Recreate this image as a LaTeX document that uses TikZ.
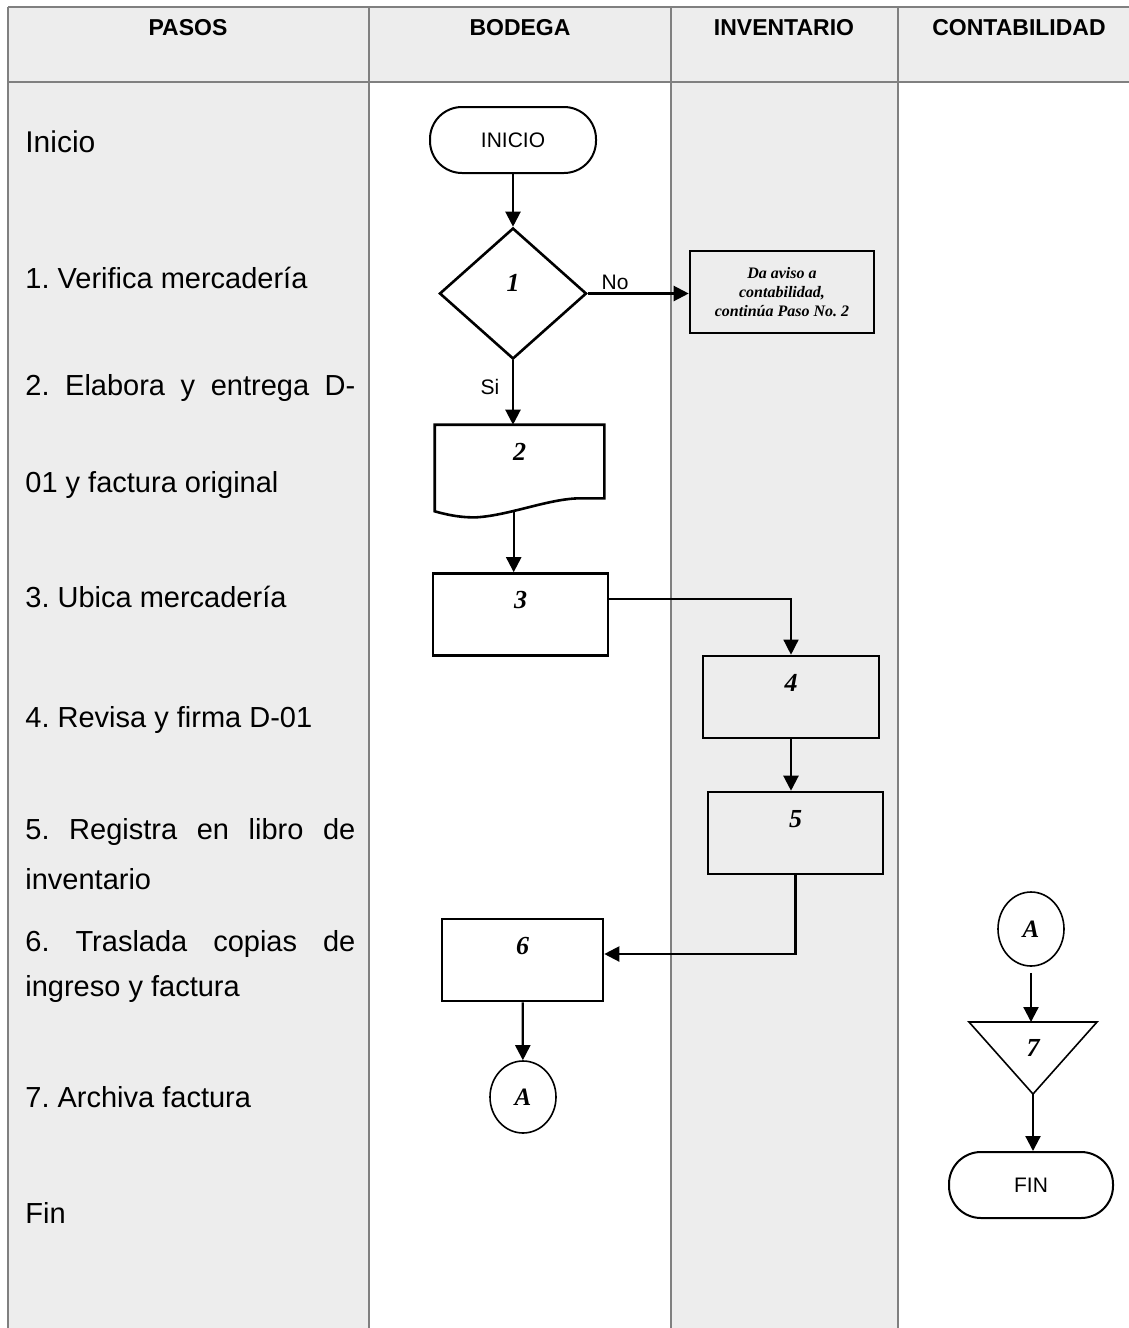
\documentclass[tikz,border=0pt]{standalone}
\usepackage{fontspec}
\setmainfont{Liberation Sans}
\newfontfamily\numfont{Liberation Serif}
\usepackage{tikz}
\usetikzlibrary{positioning, arrows.meta, calc, shapes.geometric}
\definecolor{lanegray}{RGB}{237,237,237}
\definecolor{linegray}{RGB}{128,128,128}
\frenchspacing

\begin{document}
\begin{tikzpicture}[x=0.5pt, y=-0.5pt,
	head/.style={font=\bfseries\fontsize{11.5}{13}\selectfont},
	pasotxt/.style={anchor=base west, inner sep=0pt, font=\fontsize{14.5}{17}\selectfont},
	lane/.style={draw=linegray, line width=0.8pt},
	term/.style={draw, line width=1pt, rounded corners=16pt, minimum width=83pt, minimum height=33pt, font=\fontsize{10.5}{12}\selectfont},
	caja/.style={draw, line width=1.3pt, minimum width=87.5pt, minimum height=41pt, inner sep=0pt, font=\numfont\bfseries\itshape\fontsize{13}{15}\selectfont, text height=3pt, text depth=8.6pt},
	decision/.style={diamond, draw, line width=1.3pt, minimum width=73.5pt, minimum height=65.5pt, inner sep=0pt, font=\numfont\bfseries\itshape\fontsize{13}{15}\selectfont, text height=2pt, text depth=4.1pt},
	conector/.style={ellipse, draw, line width=0.8pt, minimum width=33pt, minimum height=36pt, inner sep=0pt, font=\numfont\bfseries\itshape\fontsize{12.5}{14}\selectfont},
	flecha/.style={-{Triangle[length=7.5pt,width=7.5pt]}, line width=1.1pt},
	]
	% carriles
	\useasboundingbox (0,0) rectangle (1129,1328);
	\fill[lanegray] (8,7) rectangle (1129,82);
	\fill[lanegray] (8,82) rectangle (369,1328);
	\fill[lanegray] (671,82) rectangle (898,1328);
	\draw[lane] (8,7) -- (1129,7);
	\draw[lane] (8,82) -- (1129,82);
	\draw[lane] (8,7) -- (8,1328);
	\draw[lane] (369,7) -- (369,1328);
	\draw[lane] (671,7) -- (671,1328);
	\draw[lane] (898,7) -- (898,1328);
	\node[head] (hpasos) at (188,28) {PASOS};
	\node[head] (hbodega) at (520,28) {BODEGA};
	\node[head] (hinv) at (784,28) {INVENTARIO};
	\node[head] (hconta) at (1019,28) {CONTABILIDAD};

	% pasos
	\node[pasotxt, font=\fontsize{15}{18}\selectfont] (tini) at (25,152) {Inicio};
	\node[pasotxt] (t1) at (25,288) {1. Verifica mercadería};
	\node[pasotxt] (t2a) at (25,395) {\makebox[165pt][s]{2. Elabora y entrega D-}};
	\node[pasotxt] (t2b) at (25,492) {01 y factura original};
	\node[pasotxt] (t3) at (25,607) {3. Ubica mercadería};
	\node[pasotxt] (t4) at (25,727) {4. Revisa y firma D-01};
	\node[pasotxt] (t5a) at (25,839) {\makebox[165pt][s]{5. Registra en libro de}};
	\node[pasotxt] (t5b) at (25,889) {inventario};
	\node[pasotxt] (t6a) at (25,951) {\makebox[165pt][s]{6. Traslada copias de}};
	\node[pasotxt] (t6b) at (25,996) {ingreso y factura};
	\node[pasotxt] (t7) at (25,1107) {7. Archiva factura};
	\node[pasotxt] (tfin) at (25,1223) {Fin};

	% bodega
	\node[term] (inicio) at (513,140) {INICIO};
	\node[decision] (dec1) at (513,293.5) {1};
	\node[caja, minimum width=83.5pt, minimum height=35.5pt, draw=none, text height=3pt, text depth=4.3pt] (paso2) at (519.5,461.5) {2};
	\draw[line width=1.3pt] (paso2.south east) -- (paso2.north east) -- (paso2.north west)
		-- ($(paso2.south west)+(0,13)$)
		.. controls ($(paso2.south west)+(14,17)$) and ($(paso2.south west)+(28,19.5)$) .. ($(paso2.south west)+(42,19)$)
		.. controls ($(paso2.south west)+(75,17)$) and ($(paso2.south west)+(115,0)$) .. ($(paso2.south west)+(146,0)$)
		-- cycle;
	\coordinate (ola2) at ($(paso2.south west)+(79,12.8)$);
	\node[caja] (paso3) at (520.5,614.5) {3};
	\node[caja, minimum width=80.5pt] (paso6) at (522.5,960) {6};
	\node[conector] (conA) at (523,1097) {A};

	% inventario
	\node[caja, minimum width=92pt, align=center, font=\numfont\bfseries\itshape\fontsize{8}{9.5}\selectfont, text height=, text depth=] (aviso) at (782,292) {Da aviso a\\contabilidad,\\continúa Paso No. 2};
	\node[caja, minimum width=88pt] (paso4) at (791,697) {4};
	\node[caja] (paso5) at (795.5,833) {5};

	% contabilidad
	\node[conector, minimum height=37pt] (conB) at (1031,929) {A};
	\coordinate (tri7a) at (969,1022);
	\coordinate (tri7b) at (1097,1022);
	\coordinate (tri7c) at (1033,1094);
	\coordinate (tri7n) at (1031,1022);
	\draw[line width=0.8pt] (tri7a) -- (tri7b) -- (tri7c) -- cycle;
	\node[inner sep=0pt, font=\numfont\bfseries\itshape\fontsize{13}{15}\selectfont] (paso7) at (1033,1048) {7};
	\node[term, minimum width=82pt] (fin) at (1031,1185) {FIN};

	% flechas
	\draw[flecha] (inicio) -- (dec1);
	\draw[flecha] (dec1.east) -- (dec1.east -| aviso.west) node[pos=0.27, above, inner sep=1.5pt, font=\fontsize{10.5}{12}\selectfont] {No};
	\draw[flecha] (dec1.south) -- (dec1.south |- paso2.north) node[pos=0.42, left=3pt, font=\fontsize{10.5}{12}\selectfont] {Si};
	\draw[flecha] (ola2) -- (ola2 |- paso3.north);
	\draw[flecha, line width=0.7pt] ([yshift=7.75pt]paso3.east) -| (paso4);
	\draw[flecha] (paso4) -- (paso4 |- paso5.north);
	\draw[flecha] (paso5.south) |- ([yshift=3pt]paso6.east);
	\draw[flecha] (paso6) -- (conA);
	\draw[flecha] (conB.south) ++(0,-3pt) -- (tri7n);
	\draw[flecha] (tri7c) -- (tri7c |- fin.north);
\end{tikzpicture}
\end{document}
